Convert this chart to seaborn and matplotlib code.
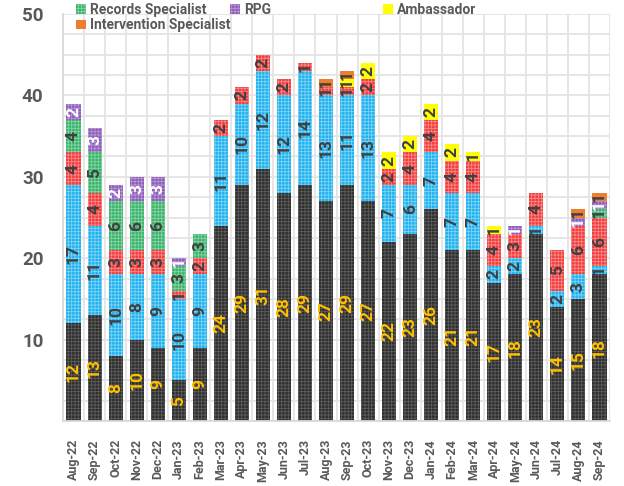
import numpy as np
import seaborn as sns
import matplotlib.pyplot as plt
from matplotlib import font_manager

# month labels
months = ["Aug-22", "Sep-22", "Oct-22", "Nov-22", "Dec-22", "Jan-23", "Feb-23",
          "Mar-23", "Apr-23", "May-23", "Jun-23", "Jul-23", "Aug-23", "Sep-23",
          "Oct-23", "Nov-23", "Dec-23", "Jan-24", "Feb-24", "Mar-24", "Apr-24",
          "May-24", "Jun-24", "Jul-24", "Aug-24", "Sep-24"]

# stacked counts, bottom to top (first three legend names are cut off in the source)
series_black = [12, 13, 8, 10, 9, 5, 9, 24, 29, 31, 28, 29, 27, 29, 27, 22, 23, 26, 21, 21, 17, 18, 23, 14, 15, 18]
series_blue = [17, 11, 10, 8, 9, 10, 9, 11, 10, 12, 12, 14, 13, 11, 13, 7, 6, 7, 7, 7, 2, 2, 1, 2, 3, 1]
series_red = [4, 4, 3, 3, 3, 1, 2, 2, 2, 2, 2, 1, 1, 1, 2, 2, 4, 4, 4, 4, 4, 3, 4, 5, 6, 6]
records_specialist = [4, 5, 6, 6, 6, 3, 3, 0, 0, 0, 0, 0, 0, 0, 0, 0, 0, 0, 0, 0, 0, 0, 0, 0, 0, 1]
rpg = [2, 3, 2, 3, 3, 1, 0, 0, 0, 0, 0, 0, 0, 0, 0, 0, 0, 0, 0, 0, 0, 1, 0, 0, 1, 1]
ambassador = [0, 0, 0, 0, 0, 0, 0, 0, 0, 0, 0, 0, 0, 1, 2, 2, 2, 2, 2, 1, 1, 0, 0, 0, 0, 0]
intervention_specialist = [0, 0, 0, 0, 0, 0, 0, 0, 0, 0, 0, 0, 1, 1, 0, 0, 0, 0, 0, 0, 0, 0, 0, 0, 1, 1]

sns.set_theme(style="white")
available = {f.name for f in font_manager.fontManager.ttflist}
font = "Liberation Sans Narrow" if "Liberation Sans Narrow" in available else "Roboto"
plt.rcParams["font.family"] = [font, "DejaVu Sans"]
plt.rcParams["hatch.linewidth"] = 0.6

fig = plt.figure(figsize=(6.24, 4.86), dpi=100)
ax = fig.add_axes([63 / 624, 65 / 486, 547 / 624, 407 / 486])

# (values, face, hatch colour, label colour, legend name)
layers = [
    (series_black, "#2e2e2e", "#5c5c5c", "#ffc000", None),
    (series_blue, "#1eb1ee", "#7fd3f6", "#404040", None),
    (series_red, "#f23b3b", "#f98a8a", "#404040", None),
    (records_specialist, "#39b36c", "#86d4a5", "#404040", "Records Specialist"),
    (rpg, "#8b5cb8", "#b996d6", "white", "RPG"),
    (ambassador, "#ffff00", "#ffff00", "#404040", "Ambassador"),
    (intervention_specialist, "#ed7d31", "#ed7d31", "#404040", "Intervention Specialist"),
]

bottom = np.zeros(len(months))
handles = {}
for vals, face, hcol, tcol, name in layers:
    sns.barplot(x=months, y=vals, bottom=bottom, color=face, saturation=1,
                width=0.67, errorbar=None, hatch="+++++", edgecolor=hcol,
                linewidth=0, ax=ax)
    cont = ax.containers[-1]
    ax.bar_label(cont, labels=[str(v) if v else "" for v in vals],
                 label_type="center", rotation=90, color=tcol,
                 fontsize=12.5, fontweight="bold")
    if name:
        handles[name] = cont.patches[0]
    bottom += np.array(vals)

ax.set_xlim(-0.5, len(months) - 0.5)
ax.set_ylim(0, 50)
ax.set_yticks([10, 20, 30, 40, 50])
ax.set_yticks(np.arange(0, 50.1, 2.5), minor=True)
ax.set_xticks(np.arange(-0.5, len(months), 1), minor=True)
ax.grid(True, which="both", axis="y", color="#e4e4e4", linewidth=1.3)
ax.grid(True, which="minor", axis="x", color="#e4e4e4", linewidth=1.3)
ax.set_axisbelow(True)
ax.tick_params(which="both", length=0)
ax.tick_params(axis="y", pad=14, labelsize=13.5, labelcolor="#595959")
ax.tick_params(axis="x", pad=13, labelsize=9, labelcolor="#595959", rotation=90)
for lab in ax.get_xticklabels() + ax.get_yticklabels():
    lab.set_fontweight("bold")
for s in ["top", "right"]:
    ax.spines[s].set_visible(False)
for s in ["left", "bottom"]:
    ax.spines[s].set_color("#d9d9d9")
    ax.spines[s].set_linewidth(1.3)
ax.set_xlabel("")
ax.set_ylabel("")

leg_kw = dict(frameon=False, loc="upper left", handlelength=0.7, handleheight=0.7,
              handletextpad=0.3, borderpad=0, borderaxespad=0, labelspacing=0.1,
              prop={"weight": "bold", "size": 10}, labelcolor="#595959")
cols = [(76, ["Records Specialist", "Intervention Specialist"]),
        (230, ["RPG"]), (383, ["Ambassador"])]
for x0, names in cols:
    fig.legend([handles[n] for n in names], names,
               bbox_to_anchor=(x0 / 624, 1 - 3 / 486), **leg_kw)

fig.savefig("out.png", dpi=100)
